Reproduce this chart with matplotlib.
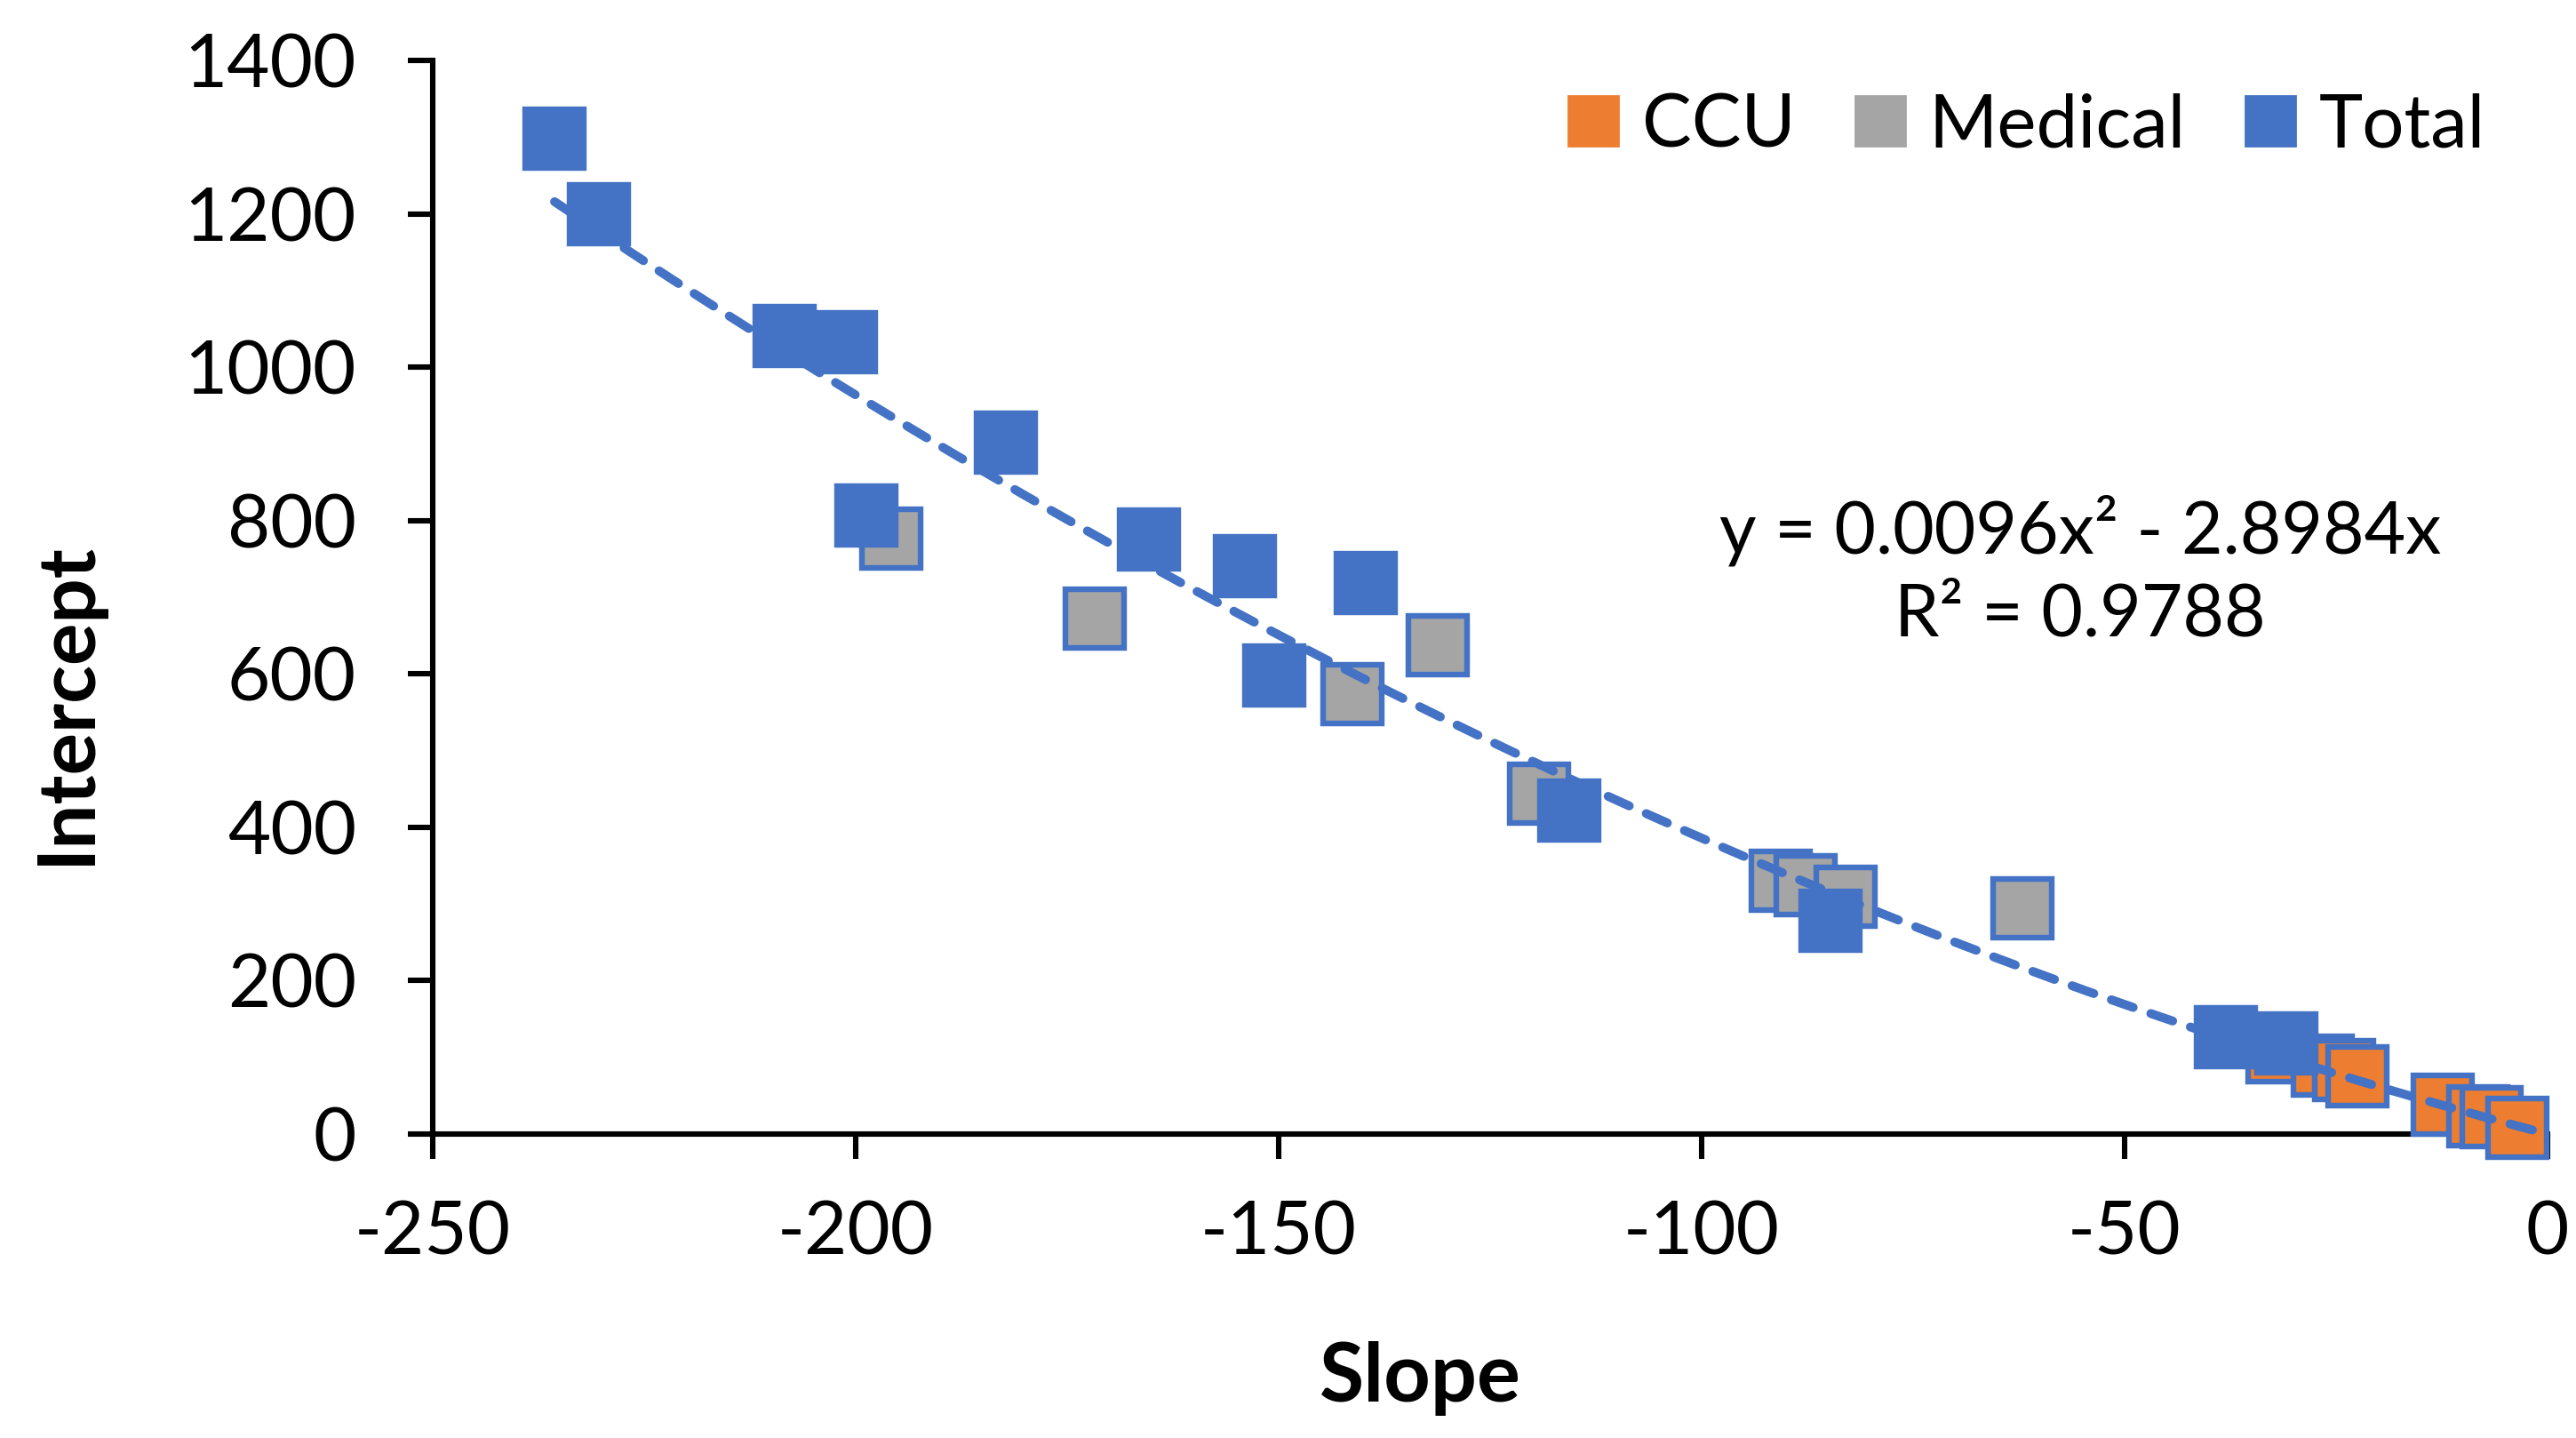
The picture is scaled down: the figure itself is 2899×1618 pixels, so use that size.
import numpy as np
import matplotlib.pyplot as plt
from matplotlib.lines import Line2D

plt.rcParams['font.family'] = ['Lato', 'DejaVu Sans']
plt.rcParams['axes.unicode_minus'] = False

# Slope / intercept pairs
ccu_slope = [-31.9, -26.6, -24.1, -22.5, -12.4, -8.2, -6.6, -3.6]
ccu_intercept = [107, 89, 83, 75, 38, 23, 22, 8]

medical_slope = [-195.8, -171.8, -141.3, -131.2, -119.2, -90.7, -87.7, -83.0, -62.1]
medical_intercept = [776, 672, 574, 637, 444, 330, 325, 309, 294]

total_slope = [-235.6, -230.4, -208.4, -201.2, -182.3, -198.7, -165.3, -154.0,
               -139.7, -150.5, -115.7, -84.8, -38.0, -30.9]
total_intercept = [1298, 1200, 1041, 1033, 902, 807, 775, 740,
                   719, 598, 422, 278, 126, 118]

# polynomial trendline shown on the chart
a2, a1 = 0.0096, -2.8984

orange = '#ED7D31'
grey = '#A5A5A5'
blue = '#4472C4'

fig = plt.figure(figsize=(14.495, 8.09), dpi=200)
ax = fig.add_axes([0.168, 0.2114, 0.821, 0.7466])

ms = 23.5
mew = 2.3
ax.plot(ccu_slope, ccu_intercept, 's', ms=ms, mfc=orange, mec=blue, mew=mew,
        clip_on=False, zorder=3)
ax.plot(medical_slope, medical_intercept, 's', ms=ms, mfc=grey, mec=blue, mew=mew,
        clip_on=False, zorder=4)

xt = np.linspace(min(total_slope), 0, 300)
ax.plot(xt, a2 * xt ** 2 + a1 * xt, color=blue, lw=3.6, ls=(0, (2.6, 2.1)),
        dash_capstyle='round', zorder=5, clip_on=False)

ax.plot(total_slope, total_intercept, 's', ms=ms, mfc=blue, mec=blue, mew=mew,
        clip_on=False, zorder=6)

ax.set_xlim(-250, 0)
ax.set_ylim(0, 1400)
ax.set_xticks(np.arange(-250, 1, 50))
ax.set_yticks(np.arange(0, 1401, 200))
ax.spines['top'].set_visible(False)
ax.spines['right'].set_visible(False)
for s in ['left', 'bottom']:
    ax.spines[s].set_linewidth(2.2)
ax.tick_params(direction='out', length=10, width=2.2, labelsize=30)
ax.tick_params(axis='x', pad=17)
ax.tick_params(axis='y', pad=21)

ax.set_xlabel('Slope', fontsize=33, fontweight='bold', va='center')
ax.xaxis.set_label_coords(0.467, -0.228)
ax.set_ylabel('Intercept', fontsize=32, fontweight='bold', va='center')
ax.yaxis.set_label_coords(-0.173, 0.401)

ax.text(0.779, 0.524, 'y = 0.0096x² - 2.8984x\nR² = 0.9788', transform=ax.transAxes,
        ha='center', va='center', fontsize=29, linespacing=1.32)

handles = [Line2D([], [], ls='none', marker='s', ms=20, mfc=c, mec=c)
           for c in [orange, grey, blue]]
ax.legend(handles, ['CCU', 'Medical', 'Total'], loc='upper right', ncol=3, frameon=False,
          fontsize=30, handletextpad=0.15, columnspacing=0.65, handlelength=1.0,
          bbox_to_anchor=(1.002, 1.032))

fig.savefig('out.png', dpi=200)
